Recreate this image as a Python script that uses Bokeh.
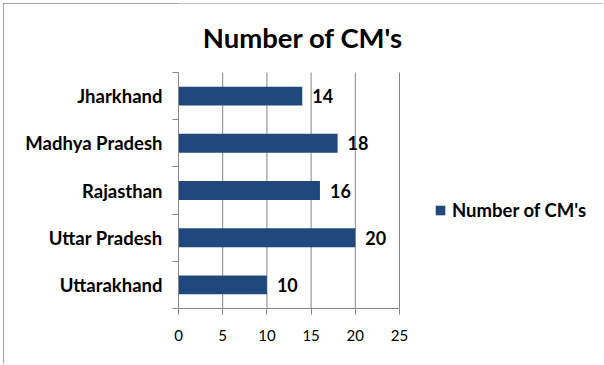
from bokeh.plotting import figure
from bokeh.models import Range1d, FixedTicker, Legend, LegendItem, ColumnDataSource, Label
from bokeh.core.properties import value
from bokeh.embed import file_html
from bokeh.resources import INLINE

title_text = "Number of CM's"
series_name = "Number of CM's"
categories = ["Uttarakhand", "Uttar Pradesh", "Rajasthan", "Madhya Pradesh", "Jharkhand"]
values = [10, 20, 16, 18, 14]
x_ticks = [0, 5, 10, 15, 20, 25]
x_max = 25

FONT = "Lato"
BAR = "#1F497D"
GRAY = "#868686"

# layout (pixels)
FIG_W, FIG_H = 600, 361
LEFT, BOTTOM = 175, 56          # frame left / bottom margin
AXIS_PX_W, AXIS_PX_H = 221, 236 # pixel size of the 0..25 x 5-category plot area
FRAME_W = FIG_W - LEFT
FRAME_H = FIG_H - BOTTOM

n = len(categories)
pos = [i + 0.5 for i in range(n)]
bounds = [i for i in range(n + 1)]
src = ColumnDataSource(dict(y=pos, v=values, lbl=[str(v) for v in values], cat=categories))

p = figure(width=FIG_W, height=FIG_H, title=None,
           x_range=Range1d(0, x_max * FRAME_W / AXIS_PX_W), y_range=Range1d(0, n * FRAME_H / AXIS_PX_H),
           output_backend="svg", toolbar_location=None,
           min_border_left=LEFT, min_border_right=0, min_border_top=0, min_border_bottom=BOTTOM)
p.styles = {"margin": "3px 0px 0px 3px", "outline": "1px solid #868686", "outline-offset": "-1px"}
p.outline_line_color = None
p.background_fill_color = "white"
p.border_fill_color = "white"
p.xgrid.visible = False
p.ygrid.visible = False

# vertical gridlines at the x ticks, spanning the category area
p.segment(x0=x_ticks, x1=x_ticks, y0=[0] * len(x_ticks), y1=[n] * len(x_ticks),
          line_color=GRAY, line_width=1)

bars = p.hbar(y="y", right="v", left=0, height=0.4, source=src, fill_color=BAR, line_color=None)

p.text(x="v", y="y", text="lbl", source=src, x_offset=10, text_baseline="middle", text_align="left",
       text_font=value(FONT), text_font_style="bold", text_font_size="18px", text_color="black")

# x axis
xa = p.xaxis[0]
xa.bounds = (0, x_max)
xa.ticker = FixedTicker(ticks=x_ticks)
xa.axis_line_color = GRAY
xa.major_tick_line_color = GRAY
xa.major_tick_out = 6
xa.major_tick_in = 0
xa.minor_tick_line_color = None
xa.major_label_text_font = FONT
xa.major_label_text_font_size = "15px"
xa.major_label_text_color = "black"
xa.major_label_standoff = 15

# y axis
ya = p.yaxis[0]
ya.bounds = (0, n)
ya.ticker = FixedTicker(ticks=pos, minor_ticks=bounds)
ya.major_label_overrides = {pv: c for pv, c in zip(pos, categories)}
ya.axis_line_color = GRAY
ya.major_tick_line_color = None
ya.major_tick_out = 0
ya.major_tick_in = 0
ya.minor_tick_line_color = GRAY
ya.minor_tick_out = 6
ya.minor_tick_in = 0
ya.major_label_text_font = FONT
ya.major_label_text_font_style = "bold"
ya.major_label_text_font_size = "18.5px"
ya.major_label_text_color = "black"
ya.major_label_standoff = 10

p.add_layout(Label(x=124.5, y=271, x_units="screen", y_units="screen", text=title_text,
                   text_align="center", text_baseline="middle", text_font=FONT,
                   text_font_style="bold", text_font_size="27.5px", text_color="black"))

legend = Legend(items=[LegendItem(label=series_name, renderers=[bars])], location=(256, 87),
                glyph_width=12, glyph_height=12, label_standoff=6, padding=0, margin=0, spacing=0,
                border_line_color=None, background_fill_alpha=0,
                label_text_font=FONT, label_text_font_style="bold", label_text_font_size="18.5px",
                label_text_color="black")
p.add_layout(legend, "center")

open("out.html", "w").write(file_html(p, INLINE))
